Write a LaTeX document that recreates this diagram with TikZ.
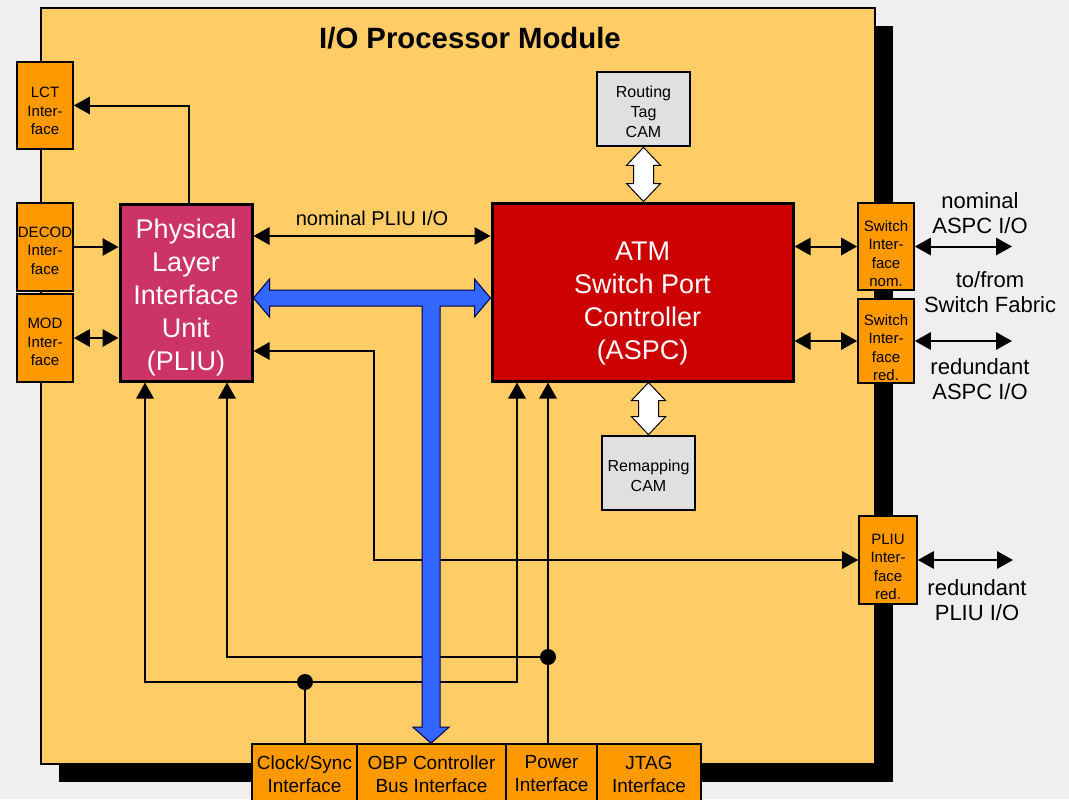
\documentclass[tikz,border=0pt]{standalone}
\usepackage{fontspec}
\setmainfont{Liberation Sans}
\usetikzlibrary{arrows.meta, calc}

\definecolor{bggray}{HTML}{F0EFED}
\definecolor{modfill}{HTML}{FFCC66}
\definecolor{ifcfill}{HTML}{FF9900}
\definecolor{pliufill}{HTML}{CC3366}
\definecolor{aspcfill}{HTML}{CC0000}
\definecolor{camfill}{HTML}{E0E0E0}
\definecolor{busblue}{HTML}{3366FF}

\tikzset{
boxdim/.style 2 args={minimum width=#1*.75pt, minimum height=#2*.75pt},
ifc/.style={draw, fill=ifcfill, line width=1.2pt, align=center, inner sep=0pt, font=\fontsize{11.25}{13.9}\selectfont},
busifc/.style={draw, fill=ifcfill, line width=1.2pt, align=center, inner sep=0pt, font=\fontsize{14.25}{17.25}\selectfont},
unit/.style={draw, line width=2.25pt, align=center, text=white, font=\fontsize{20.25}{24.75}\selectfont},
cam/.style={draw, fill=camfill, line width=2pt, align=center, font=\fontsize{12}{15}\selectfont},
lbl/.style={align=center, font=\fontsize{16.5}{18.75}\selectfont},
fat/.style={draw, fill=white, line width=.75pt},
bus/.style={draw=blue!30!black, fill=busblue, line width=.75pt}
}

\newcommand{\lift}[1]{\rule{0pt}{#1}}
\newcommand{\fatarrow}[2]{%
\draw[fat] (#1) -- ++(17,18) -- ++(-7,0) -- ($(#2)+(10,-18)$) -- ++(7,0) -- (#2)
 -- ++(-17,-18) -- ++(7,0) -- ($(#1)+(-10,18)$) -- ++(-7,0) -- cycle;}

\begin{document}
\begin{tikzpicture}[x=.75pt, y=-.75pt, line width=1.5pt, >={Triangle[length=12pt,width=13pt]}]
\fill[bggray] (0,0) rectangle (1069,799);
\useasboundingbox (0,0) rectangle (1069,799);
\fill (59,26) rectangle (893,782);
\draw[fill=modfill, line width=1pt] (41,8) rectangle (875,764);
\node[font=\bfseries\fontsize{22}{26}\selectfont] (title) at (470,38) {I/O Processor Module};

\node[ifc, boxdim={56}{87}] (lct) at (45,105.5) {\lift{16pt}LCT\\Inter-\\face};
\node[ifc, boxdim={56}{88}] (decod) at (45,247) {\lift{13.5pt}DECOD\\Inter-\\face};
\node[ifc, boxdim={56}{88}] (mod) at (45,338) {\lift{14pt}MOD\\Inter-\\face};
\node[unit, fill=pliufill, boxdim={132}{177}] (pliu) at (186,292.5) {\lift{21.5pt}Physical\\Layer\\Interface\\Unit\\(PLIU)};
\node[unit, fill=aspcfill, boxdim={301}{178}] (aspc) at (642.5,292) {\lift{31pt}ATM\\Switch Port\\Controller\\(ASPC)};
\node[cam, boxdim={93}{74}] (rtcam) at (643.5,109) {\lift{13.5pt}Routing\\Tag\\CAM};
\node[cam, boxdim={93}{74}] (rmcam) at (648.5,473) {\lift{13.5pt}Remapping\\CAM};
\node[ifc, boxdim={56}{87}] (swnom) at (886,246.5) {\lift{19pt}Switch\\Inter-\\face\\nom.};
\node[ifc, boxdim={56}{84}] (swred) at (886,341) {\lift{18pt}Switch\\Inter-\\face\\red.};
\node[ifc, boxdim={58}{88}] (pliured) at (888,560) {\lift{18pt}PLIU\\Inter-\\face\\red.};
\node[busifc, boxdim={105}{60}] (clk) at (304.5,774) {Clock/Sync\\Interface};
\node[busifc, boxdim={149}{60}] (obp) at (431.5,774) {OBP Controller\\Bus Interface};
\node[busifc, boxdim={91}{60}] (pwr) at (551.5,774) {Power\\Interface};
\node[busifc, boxdim={104}{60}] (jtag) at (649,774) {JTAG\\Interface};

\draw[->] (pliu.north -| 189,0) |- (lct.east);
\draw[->] (decod.east) -- (decod.east -| pliu.west);
\draw[<->] (mod.east) -- (mod.east -| pliu.west);
\draw[<->] (pliu.east |- 0,236) -- (aspc.west |- 0,236) node[midway, above=4pt, font=\fontsize{15}{18}\selectfont] (nompliu) {nominal PLIU I/O};
\draw[<->] (pliured.west) -| (374,351) -- (pliu.east |- 0,351);

\coordinate (jclk) at (305,682);
\coordinate (jpwr) at (548,657);
\draw[<->] (pliu.south -| 145,0) |- (jclk) -| (aspc.south -| 517,0);
\draw[<->] (pliu.south -| 227,0) |- (jpwr) -- (aspc.south -| jpwr);
\draw (jclk) -- (jclk |- clk.north);
\draw (jpwr) -- (jpwr |- pwr.north);
\fill (jclk) circle[radius=8];
\fill (jpwr) circle[radius=8];

\coordinate (busl) at (pliu.east |- 0,298);
\coordinate (busr) at (aspc.west |- 0,298);
\coordinate (busb) at (obp.north -| 431,0);
\coordinate (busj) at (busb |- busl);
\draw[bus] (busl) -- ++(16,-19) -- ++(0,11) -- ($(busr)+(-16,-8)$) -- ++(0,-11) -- (busr)
 -- ++(-16,19) -- ++(0,-11) -- ($(busj)+(9,8)$) -- ($(busb)+(9,-16)$) -- ++(9,0) -- (busb)
 -- ++(-18,-16) -- ++(9,0) -- ($(busj)+(-9,8)$) -- ($(busl)+(16,8)$) -- ++(0,11) -- cycle;

\coordinate (rtb) at (aspc.north -| rtcam.south);
\coordinate (rmt) at (aspc.south -| rmcam.north);
\fatarrow{rtcam.south}{rtb}
\fatarrow{rmt}{rmcam.north}

\draw[<->] (aspc.east |- swnom.west) -- (swnom.west);
\draw[<->] (aspc.east |- swred.west) -- (swred.west);
\draw[<->] (swnom.east) -- (swnom.east -| 1012,0);
\draw[<->] (swred.east) -- (swred.east -| 1012,0);
\draw[<->] (pliured.east) -- (pliured.east -| 1013,0);

\node[lbl] (nomlbl) at (980,213) {nominal\\ASPC I/O};
\node[lbl] (fablbl) at (990,292) {to/from\\Switch Fabric};
\node[lbl] (redlbl) at (980,379) {redundant\\ASPC I/O};
\node[lbl] (plbl) at (977,600) {redundant\\PLIU I/O};
\end{tikzpicture}
\end{document}
